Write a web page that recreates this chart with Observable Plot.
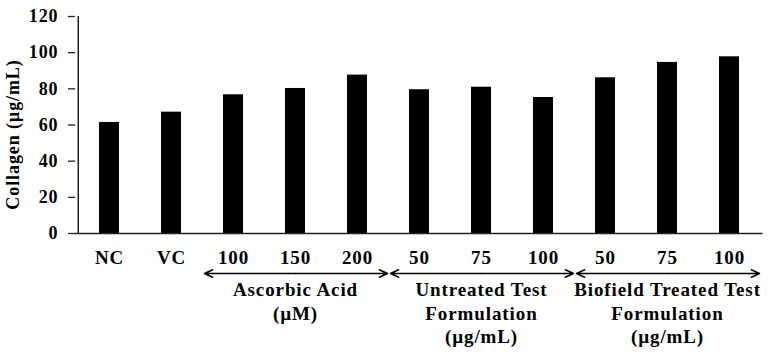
<!DOCTYPE html>
<html><head><meta charset="utf-8">
<script src="https://cdn.jsdelivr.net/npm/d3@7"></script>
<script src="https://cdn.jsdelivr.net/npm/@observablehq/plot@0.6"></script>
<style>
body{margin:0;background:#fff}
svg{display:block}
</style>
</head><body><div id="chart"></div>
<script>
// Categories (unique ids) and their printed tick labels
const ids = ["NC","VC","AA100","AA150","AA200","UT50","UT75","UT100","BT50","BT75","BT100"];
const tickLabels = ["NC","VC","100","150","200","50","75","100","50","75","100"];
// Collagen values (µg/mL)
const collagen = [61.4, 67.1, 76.7, 80.2, 87.6, 79.5, 80.9, 75.2, 86.1, 94.6, 97.7];
// Y ticks
const yTicks = [0, 20, 40, 60, 80, 100, 120];
// Groups
const groupLabels = ["Ascorbic Acid\n(µM)", "Untreated Test\nFormulation\n(µg/mL)", "Biofield Treated Test\nFormulation\n(µg/mL)"];
const groupStart = ["AA100","UT50","BT50"];
const groupMid = ["AA150","UT75","BT75"];
const groupEnd = ["AA200","UT100","BT100"];
const yLabel = "Collagen (µg/mL)";

const rows = ids.map((id, i) => ({id, value: collagen[i]}));
const labelOf = new Map(ids.map((id, i) => [id, tickLabels[i]]));
const groups = groupLabels.map((label, i) => ({label, start: groupStart[i], mid: groupMid[i], end: groupEnd[i]}));

const font = "'Liberation Serif', 'Times New Roman', serif";
const arrowOpts = {stroke: "black", strokeWidth: 1.5, headLength: 9, headAngle: 50, dy: 40};

const chart = Plot.plot({
  width: 776, height: 357,
  marginLeft: 75, marginRight: 13.5, marginTop: 16, marginBottom: 124,
  x: {domain: ids, paddingInner: 0.67, paddingOuter: 0.335, label: null, axis: null},
  y: {domain: [0, 120], label: null, axis: null},
  marks: [
    Plot.barY(rows, {x: "id", y: "value", fill: "black"}),
    Plot.ruleY([0], {stroke: "#222", strokeWidth: 1.5}),
    Plot.ruleX([ids[0]], {y1: 0, y2: 120, dx: -31.25, stroke: "#222", strokeWidth: 1.5}),
    Plot.axisY({ticks: yTicks, tickSize: 7, tickPadding: 10, fontSize: 18, stroke: "#222", strokeWidth: 1.3, label: null}),
    Plot.axisX({tickSize: 0, tickPadding: 17, fontSize: 19, tickFormat: d => labelOf.get(d), label: null}),
    Plot.arrow(groups, {x1: "mid", x2: "start", y1: 0, y2: 0, insetEnd: -29, ...arrowOpts}),
    Plot.arrow(groups, {x1: "mid", x2: "end", y1: 0, y2: 0, insetEnd: -30, ...arrowOpts}),
    Plot.text(groups, {x: "mid", text: "label", frameAnchor: "bottom", lineAnchor: "top", dy: 46, lineHeight: 1.24, fontSize: 19, fill: "black"}),
    Plot.text([yLabel], {text: d => d, frameAnchor: "left", textAnchor: "middle", rotate: -90, dx: -62, dy: 9.5, fontSize: 18, fill: "black"})
  ]
});
d3.select(chart).style("font-family", font).style("font-weight", "bold").style("background", "white").style("overflow", "visible");
d3.select(chart).selectAll("text").attr("font-family", font).attr("font-weight", "bold").attr("letter-spacing", "0.9px");
document.getElementById("chart").appendChild(chart);
</script>
</body></html>
